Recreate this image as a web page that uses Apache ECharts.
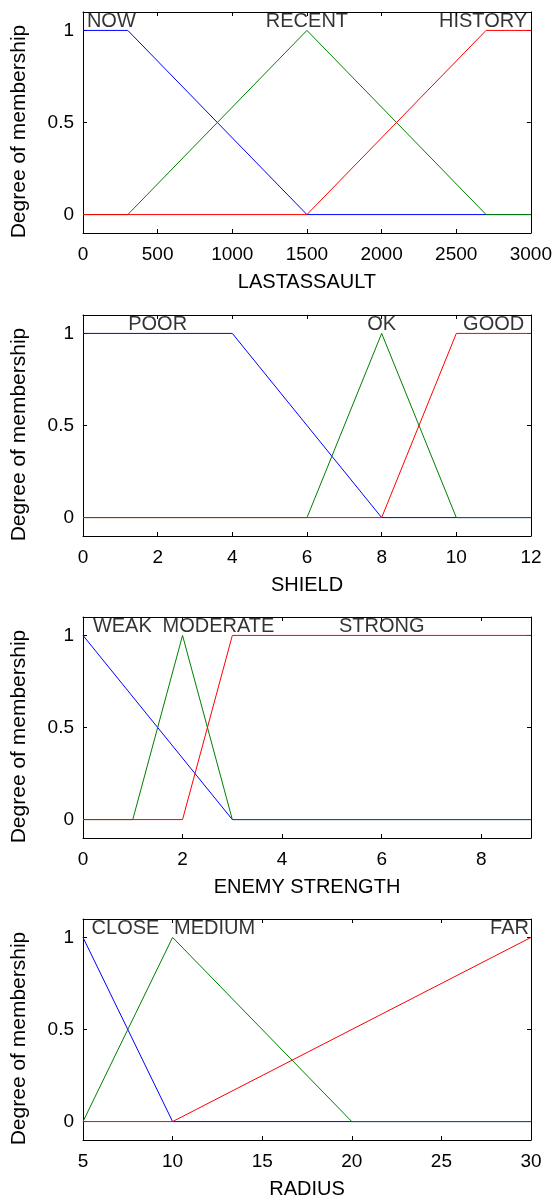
<!DOCTYPE html>
<html><head><meta charset="utf-8">
<script src="https://cdn.jsdelivr.net/npm/echarts@6/dist/echarts.min.js"></script>
<style>html,body{margin:0;padding:0;background:#fff}#c{width:555px;height:1203px}</style>
</head><body><div id="c"></div>
<script>
// ---- data ----
const lastAssaultNow = [[0,1],[300,1],[1500,0],[3000,0]];
const lastAssaultRecent = [[0,0],[300,0],[1500,1],[2700,0],[3000,0]];
const lastAssaultHistory = [[0,0],[1500,0],[2700,1],[3000,1]];
const lastAssaultLabels = [['NOW',190],['RECENT',1500],['HISTORY',2680]];
const lastAssaultTicks = [0,500,1000,1500,2000,2500,3000];

const shieldPoor = [[0,1],[4,1],[8,0],[12,0]];
const shieldOk = [[0,0],[6,0],[8,1],[10,0],[12,0]];
const shieldGood = [[0,0],[8,0],[10,1],[12,1]];
const shieldLabels = [['POOR',2],['OK',8],['GOOD',11]];
const shieldTicks = [0,2,4,6,8,10,12];

const enemyWeak = [[0,1],[3,0],[9,0]];
const enemyModerate = [[0,0],[1,0],[2,1],[3,0],[9,0]];
const enemyStrong = [[0,0],[2,0],[3,1],[9,1]];
const enemyLabels = [['WEAK',0.79],['MODERATE',2.72],['STRONG',6]];
const enemyTicks = [0,2,4,6,8];

const radiusClose = [[5,1],[10,0],[30,0]];
const radiusMedium = [[5,0],[10,1],[20,0],[30,0]];
const radiusFar = [[5,0],[10,0],[30,1]];
const radiusLabels = [['CLOSE',7.37],['MEDIUM',12.34],['FAR',28.8]];
const radiusTicks = [5,10,15,20,25,30];

const yTicks = [0,0.5,1];
const yLabel = 'Degree of membership';

const panels = [
  {name:'LASTASSAULT', min:0, max:3000, ticks:lastAssaultTicks, lines:[lastAssaultNow,lastAssaultRecent,lastAssaultHistory], labels:lastAssaultLabels},
  {name:'SHIELD', min:0, max:12, ticks:shieldTicks, lines:[shieldPoor,shieldOk,shieldGood], labels:shieldLabels},
  {name:'ENEMY STRENGTH', min:0, max:9, ticks:enemyTicks, lines:[enemyWeak,enemyModerate,enemyStrong], labels:enemyLabels},
  {name:'RADIUS', min:5, max:30, ticks:radiusTicks, lines:[radiusClose,radiusMedium,radiusFar], labels:radiusLabels}
];
const colors = ['#0000ff','#008000','#ff0000'];
const tops = [12, 315, 617, 919];
const FONT = 'Liberation Sans, Arial, sans-serif';
const fmt = v => String(v);

const grid=[], xAxis=[], yAxis=[], series=[];
panels.forEach((p,i)=>{
  grid.push({left:83, width:448, top:tops[i], height:221});
  const bx = {type:'value', gridIndex:i, min:p.min, max:p.max, position:'bottom',
    name:p.name, nameLocation:'middle', nameGap:39,
    nameTextStyle:{color:'#000', fontSize:20, fontFamily:FONT},
    axisLine:{show:true, onZero:false, lineStyle:{color:'#000', width:1}},
    axisTick:{show:true, inside:true, length:4, customValues:p.ticks, lineStyle:{color:'#000'}},
    axisLabel:{show:true, customValues:p.ticks, formatter:fmt, color:'#000', fontSize:19, fontFamily:FONT, margin:12, hideOverlap:false},
    splitLine:{show:false}};
  const tx = {type:'value', gridIndex:i, min:p.min, max:p.max, position:'top',
    axisLine:{show:true, onZero:false, lineStyle:{color:'#000', width:1}},
    axisTick:{show:true, inside:true, length:4, customValues:p.ticks, lineStyle:{color:'#000'}},
    axisLabel:{show:false}, splitLine:{show:false}};
  xAxis.push(bx); xAxis.push(tx);
  const ly = {type:'value', gridIndex:i, min:-0.1, max:1.1, position:'left',
    name:yLabel, nameLocation:'middle', nameGap:53, nameRotate:90,
    nameTextStyle:{color:'#000', fontSize:21, fontFamily:FONT, padding:[0,18,0,0]},
    axisLine:{show:true, onZero:false, lineStyle:{color:'#000', width:1}},
    axisTick:{show:true, inside:true, length:4, customValues:yTicks, lineStyle:{color:'#000'}},
    axisLabel:{show:true, customValues:yTicks, formatter:fmt, color:'#000', fontSize:19, fontFamily:FONT, margin:9},
    splitLine:{show:false}};
  const ry = {type:'value', gridIndex:i, min:-0.1, max:1.1, position:'right',
    axisLine:{show:true, onZero:false, lineStyle:{color:'#000', width:1}},
    axisTick:{show:true, inside:true, length:4, customValues:yTicks, lineStyle:{color:'#000'}},
    axisLabel:{show:false}, splitLine:{show:false}};
  yAxis.push(ly); yAxis.push(ry);
  p.lines.forEach((d,k)=>{
    series.push({type:'line', xAxisIndex:2*i, yAxisIndex:2*i, data:d, symbol:'none',
      lineStyle:{color:colors[k], width:1}, itemStyle:{color:colors[k]}, z:2+k, silent:true});
  });
  series.push({type:'scatter', xAxisIndex:2*i, yAxisIndex:2*i, symbolSize:0, silent:true,
    data:p.labels.map(l=>({name:l[0], value:[l[1],1]})),
    label:{show:true, position:'top', distance:-1, formatter:'{b}', color:'#000', textBorderWidth:0, fontSize:20, fontFamily:FONT}, z:10});
});

const chart = echarts.init(document.getElementById('c'), null, {renderer:'canvas'});
chart.setOption({animation:false, backgroundColor:'#fff', grid, xAxis, yAxis, series});
</script></body></html>
